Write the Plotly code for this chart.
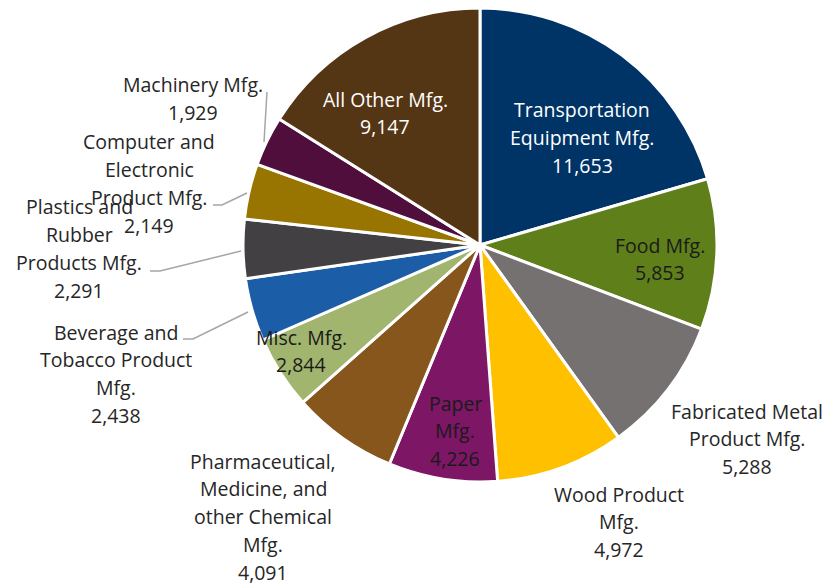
import plotly.graph_objects as go

W, H = 828, 584

categories = [
    "Transportation\nEquipment Mfg.", "Food Mfg.", "Fabricated Metal\nProduct Mfg.",
    "Wood Product\nMfg.", "Paper\nMfg.", "Pharmaceutical,\nMedicine, and\nother Chemical\nMfg.",
    "Misc. Mfg.", "Beverage and\nTobacco Product\nMfg.", "Plastics and\nRubber\nProducts Mfg.",
    "Computer and\nElectronic\nProduct Mfg.", "Machinery Mfg.", "All Other Mfg.",
]
values = [11653, 5853, 5288, 4972, 4226, 4091, 2844, 2438, 2291, 2149, 1929, 9147]
colors = ["#003366", "#5F7F1A", "#767171", "#FFC000", "#7E1666", "#86561C",
          "#A2B56F", "#1C5DA8", "#434043", "#987401", "#500E3C", "#553614"]
text_colors = ["#FFFFFF", "#1A1A1A", "#262626", "#262626", "#1A1A1A", "#262626",
               "#1A1A1A", "#262626", "#262626", "#262626", "#262626", "#FFFFFF"]

# label centre (pixels) of the first line for each slice
label_pos = [(582, 110), (660, 245), (747, 411), (619, 494), (455, 403), (263, 461),
             (301, 337), (116, 332), (79, 207), (149, 142), (193, 85), (385, 99)]
LINE = 27.8

# leader lines (pixels) for outside labels
leaders = [
    [(267, 92), (264, 142)],
    [(213, 205), (222, 205), (247, 193)],
    [(150, 271), (160, 271), (241, 251)],
    [(183, 339), (193, 339), (248, 312)],
]

fig = go.Figure(go.Pie(
    labels=[c.replace("\n", " ") for c in categories],
    values=values,
    sort=False,
    direction="clockwise",
    rotation=0,
    marker=dict(colors=colors, line=dict(color="#FFFFFF", width=3)),
    textinfo="none",
    hoverinfo="label+value",
    domain=dict(x=[243 / W, 717 / W], y=[1 - 482 / H, 1 - 8 / H]),
    showlegend=False,
))

FONT = "Open Sans"
anns = []
for cat, val, (x, y), tc in zip(categories, values, label_pos, text_colors):
    lines = cat.split("\n") + [f"{val:,}"]
    for i, ln in enumerate(lines):
        anns.append(dict(
            x=x / W, y=1 - (y + i * LINE) / H, xref="paper", yref="paper",
            text=ln, showarrow=False, xanchor="center", yanchor="middle",
            font=dict(family=FONT, size=19.5, color=tc),
        ))

shapes = []
for pts in leaders:
    path = "M " + " L ".join(f"{px / W},{1 - py / H}" for px, py in pts)
    shapes.append(dict(type="path", path=path, xref="paper", yref="paper",
                       line=dict(color="#A6A6A6", width=1.5)))

fig.update_layout(
    width=W, height=H,
    margin=dict(l=0, r=0, t=0, b=0),
    paper_bgcolor="#FFFFFF", plot_bgcolor="#FFFFFF",
    annotations=anns, shapes=shapes,
)

fig.write_html("out.html", config={"displayModeBar": False},
               post_script="document.body.style.margin='0';document.body.style.overflow='hidden';")
